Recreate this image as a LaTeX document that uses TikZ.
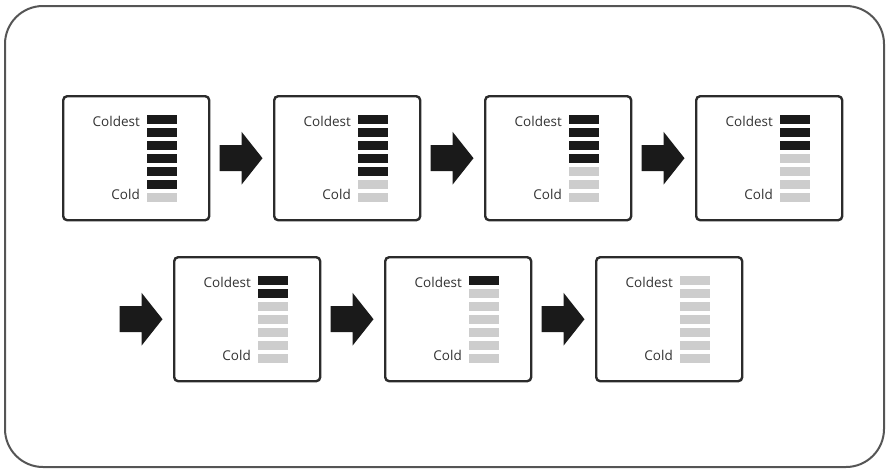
\documentclass[tikz,border=0pt]{standalone}
\usepackage{fontspec}
\setmainfont{Open Sans}
\usetikzlibrary{calc}
\definecolor{framegray}{HTML}{555555}
\definecolor{panelline}{HTML}{2B2B2B}
\definecolor{barblack}{HTML}{1A1A1A}
\definecolor{bargray}{HTML}{CDCDCD}
\definecolor{txt}{HTML}{333333}
\begin{document}
\begin{tikzpicture}[x=1pt,y=-1pt,
  panel/.style={draw=panelline, line width=2.4pt, rounded corners=4pt,
    minimum width=146pt, minimum height=124pt, anchor=north west,
    inner sep=0pt, fill=white},
  lbl/.style={font=\fontsize{13.5}{16}\selectfont, text=txt, anchor=base east, inner sep=0pt},
  darkbar/.style={fill=barblack},
  lightbar/.style={fill=bargray},
  blockarrow/.style={fill=barblack}]
\useasboundingbox (0,0) rectangle (886,469);
\draw[framegray, line width=2pt, rounded corners=38pt] (5,6) rectangle (884,467);
% panels
\foreach \n/\px/\py in {1/62/95, 2/273/95, 3/484/95, 4/695/95, 5/173/256, 6/384/256, 7/595/256}{
  \node[panel] (p\n) at (\px,\py) {};
  \node[lbl] (c\n) at ($(p\n.north west)+(78,31)$) {Coldest};
  \node[lbl] (d\n) at ($(p\n.north west)+(78,104)$) {Cold};
  \pgfmathtruncatemacro{\nblack}{7-\n}
  \foreach \i in {0,...,6}{
    \ifnum\i<\nblack\relax
      \fill[darkbar] ($(p\n.north west)+(85,20+13*\i)$) rectangle ++(30,9);
    \else
      \fill[lightbar] ($(p\n.north west)+(85,20+13*\i)$) rectangle ++(30,9);
    \fi
  }
}
% arrows
\foreach \n in {2,3,4,5,6,7}{
  \coordinate (t\n) at ($(p\n.west)+(-10.5,0)$);
  \fill[blockarrow] (t\n) -- ++(-21,-26.5) -- ++(0,13.5) -- ++(-22,0) -- ++(0,26)
     -- ++(22,0) -- ++(0,13.5) -- cycle;
}
\end{tikzpicture}
\end{document}
